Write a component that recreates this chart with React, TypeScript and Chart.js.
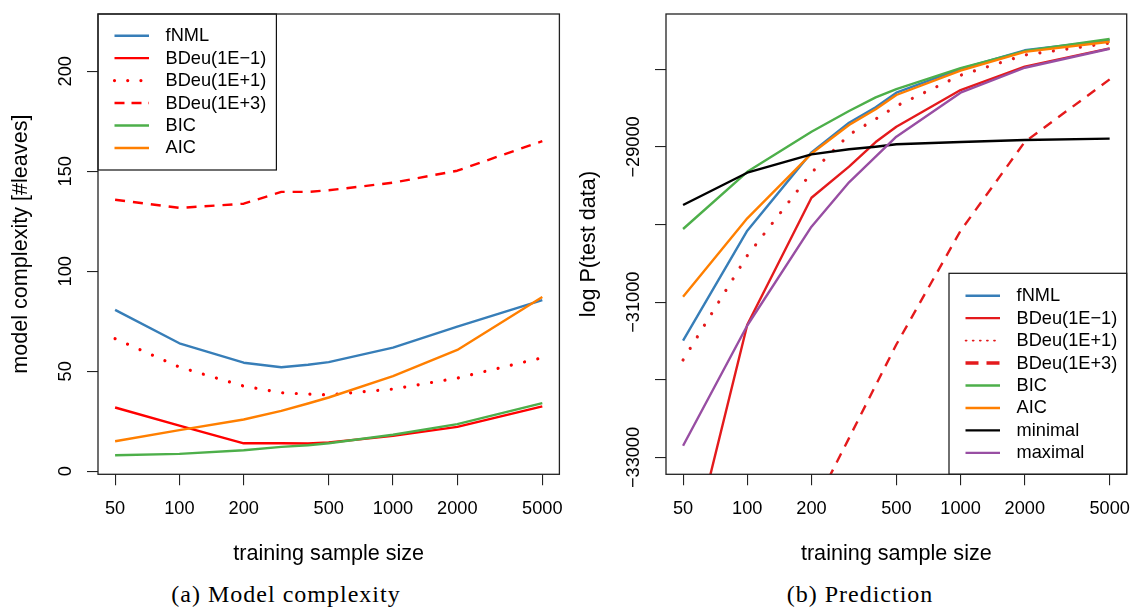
import { useEffect, useRef } from "react";
import { Chart, registerables } from "chart.js";

Chart.register(...registerables);

// ---- shared axis data ----
const sampleSizes = [50, 100, 200, 300, 400, 500, 1000, 2000, 5000];
const xTickValues = [50, 100, 200, 500, 1000, 2000, 5000];
const xTitle = "training sample size";

// ---- (a) model complexity: number of leaves ----
const complexityTicks = [0, 50, 100, 150, 200];
const complexityFNML = [80.7, 64.0, 54.3, 52.0, 53.3, 54.6, 61.8, 72.3, 85.6];
const complexityBDeuSmall = [31.9, 22.8, 14.0, 14.0, 13.9, 14.4, 17.7, 22.2, 32.5];
const complexityBDeuMid = [66.3, 52.1, 42.6, 39.3, 38.6, 38.2, 41.1, 46.6, 56.8];
const complexityBDeuLarge = [135.8, 131.7, 133.8, 139.7, 139.7, 140.5, 144.3, 150.3, 165.1];
const complexityBIC = [8.0, 8.7, 10.5, 12.2, 13.0, 14.0, 18.3, 23.6, 34.1];
const complexityAIC = [15.0, 20.6, 25.9, 30.2, 33.9, 36.9, 47.6, 60.7, 87.2];

// ---- (b) prediction: log-likelihood of test data ----
const predictionTicks = [-33000, -32000, -31000, -30000, -29000, -28000];
const predictionTickLabels = [-33000, -31000, -29000];
const predictionFNML = [-31496, -30079, -29070, -28688, -28489, -28301, -27995, -27755, -27625];
const predictionBDeuSmall = [-34650, -31290, -29654, -29254, -28937, -28739, -28267, -27966, -27730];
const predictionBDeuMid = [-31744, -30400, -29332, -28842, -28640, -28473, -28077, -27816, -27662];
const predictionBDeuLarge = [-37000, -35340, -33700, -32750, -32070, -31545, -30080, -28935, -28130];
const predictionBIC = [-30057, -29320, -28804, -28537, -28361, -28254, -27985, -27765, -27610];
const predictionAIC = [-30929, -29919, -29085, -28717, -28515, -28331, -28018, -27775, -27645];
const predictionMinimal = [-29748, -29332, -29095, -29030, -28997, -28966, -28937, -28911, -28893];
const predictionMaximal = [-32848, -31300, -30027, -29456, -29126, -28868, -28301, -27980, -27735];

const FONT = '"Liberation Sans", Arial, Helvetica, sans-serif';
const SERIF = '"Liberation Serif", "Times New Roman", serif';
const AXIS = "#222222";
const BLUE = "#377EB8";
const GREEN = "#4DAF4A";
const ORANGE = "#FF7F00";
const PURPLE = "#984EA3";
const LINE_W = 2.4;
const DOT_W = 3.2;

const SOLID: number[] = [];
const DOTTED = [0.01, 13.6];
const DASHED = [10, 8];

type Series = {
  label: string;
  data: number[];
  color: string;
  dash: number[];
  legendDash?: number[];
  legendWidth?: number;
};

type Spec = {
  series: Series[];
  yMin: number;
  yMax: number;
  yTicks: number[];
  yLabelled: number[];
  yTitle: string;
  area: { left: number; right: number; top: number; bottom: number };
  legend: { left: number; top: number; right: number; bottom: number; firstRow: number };
};

const CANVAS_W = 566;
const CANVAS_H = 575;

const fmt = (v: number) => (v < 0 ? "\u2212" + String(-v) : String(v));

function makeChart(canvas: HTMLCanvasElement, spec: Spec) {
  const { area, legend } = spec;
  const decor = {
    id: "decor",
    afterDraw(chart: any) {
      const { ctx, chartArea: a, scales } = chart;
      ctx.save();
      // legend (drawn on a white box)
      ctx.fillStyle = "#ffffff";
      const lw = legend.right - legend.left;
      const lh = legend.bottom - legend.top;
      ctx.fillRect(legend.left, legend.top, lw, lh);
      ctx.strokeStyle = "#111";
      ctx.lineWidth = 1.2;
      ctx.strokeRect(legend.left, legend.top, lw, lh);
      ctx.font = `18.2px ${FONT}`;
      ctx.textAlign = "left";
      ctx.textBaseline = "middle";
      spec.series.forEach((s, i) => {
        const yy = legend.top + legend.firstRow + i * 22.45;
        const d = s.legendDash ?? s.dash;
        const dotted = d.length > 0 && d[0] < 2;
        ctx.beginPath();
        ctx.strokeStyle = s.color;
        ctx.lineWidth = s.legendWidth ?? (s.dash === DOTTED ? DOT_W : LINE_W);
        ctx.setLineDash(d);
        ctx.lineCap = dotted ? "round" : "butt";
        ctx.moveTo(legend.left + 16.5, yy);
        ctx.lineTo(legend.left + 51, yy);
        ctx.stroke();
        ctx.setLineDash([]);
        ctx.fillStyle = "#000";
        ctx.fillText(s.label, legend.left + 67.6, yy + 0.5);
      });
      // plot frame
      ctx.strokeStyle = AXIS;
      ctx.lineWidth = 1.3;
      ctx.strokeRect(a.left, a.top, a.right - a.left, a.bottom - a.top);
      // y tick labels, parallel to the axis
      ctx.fillStyle = "#000";
      ctx.textAlign = "center";
      ctx.textBaseline = "middle";
      ctx.font = `18.2px ${FONT}`;
      const y = scales.y;
      for (const v of spec.yLabelled) {
        ctx.save();
        ctx.translate(a.left - 32.5, y.getPixelForValue(v));
        ctx.rotate(-Math.PI / 2);
        ctx.fillText(fmt(v), 0, 0);
        ctx.restore();
      }
      // axis titles
      ctx.font = `21.6px ${FONT}`;
      ctx.fillText(xTitle, (a.left + a.right) / 2, 554.5);
      ctx.save();
      ctx.translate(a.left - 77, (a.top + a.bottom) / 2);
      ctx.rotate(-Math.PI / 2);
      ctx.fillText(spec.yTitle, 0, 0);
      ctx.restore();
      ctx.restore();
    },
  };

  const datasets = spec.series.map((s, i) => ({
    label: s.label,
    data: sampleSizes.map((x, j) => ({ x, y: s.data[j] })),
    borderColor: s.color,
    backgroundColor: s.color,
    borderWidth: s.dash === DOTTED ? DOT_W : LINE_W,
    borderDash: s.dash,
    borderCapStyle: s.dash === DOTTED ? "round" : "butt",
    borderJoinStyle: "round",
    pointRadius: 0,
    tension: 0,
    fill: false,
    order: -i,
  }));

  const grid = {
    drawOnChartArea: false,
    drawTicks: true,
    tickLength: 11,
    color: AXIS,
    lineWidth: 1.1,
  };

  return new Chart(canvas, {
    type: "line",
    data: { datasets } as any,
    plugins: [decor],
    options: {
      responsive: false,
      animation: false,
      devicePixelRatio: 1,
      layout: {
        padding: { left: 0, top: area.top, right: CANVAS_W - area.right, bottom: 0 },
      },
      plugins: { legend: { display: false }, tooltip: { enabled: false }, title: { display: false } },
      scales: {
        x: {
          type: "logarithmic",
          bounds: "data",
          min: 50 / Math.pow(10, 0.08),
          max: 5000 * Math.pow(10, 0.08),
          afterBuildTicks: (s: any) => {
            s.ticks = xTickValues.map((v) => ({ value: v }));
          },
          afterFit: (s: any) => {
            s.height = CANVAS_H - area.bottom;
            s.paddingLeft = 0;
            s.paddingRight = 0;
          },
          grid,
          border: { display: false },
          ticks: {
            autoSkip: false,
            maxRotation: 0,
            minRotation: 0,
            padding: 13,
            color: "#000",
            font: { family: FONT, size: 18.2 },
            callback: (v: any) => String(v),
          },
        },
        y: {
          type: "linear",
          bounds: "data",
          min: spec.yMin,
          max: spec.yMax,
          afterBuildTicks: (s: any) => {
            s.ticks = spec.yTicks.map((v) => ({ value: v }));
          },
          afterFit: (s: any) => {
            s.width = area.left;
            s.paddingTop = 0;
            s.paddingBottom = 0;
          },
          grid,
          border: { display: false },
          ticks: { display: false },
        },
      },
    } as any,
  });
}

const complexitySpec: Spec = {
  series: [
    { label: "fNML", data: complexityFNML, color: BLUE, dash: SOLID },
    { label: "BDeu(1E\u22121)", data: complexityBDeuSmall, color: "#FF0000", dash: SOLID },
    { label: "BDeu(1E+1)", data: complexityBDeuMid, color: "#FF0000", dash: DOTTED, legendDash: [0.01, 13.2] },
    { label: "BDeu(1E+3)", data: complexityBDeuLarge, color: "#FF0000", dash: DASHED, legendDash: [10, 7] },
    { label: "BIC", data: complexityBIC, color: GREEN, dash: SOLID },
    { label: "AIC", data: complexityAIC, color: ORANGE, dash: SOLID },
  ],
  yMin: -1.5,
  yMax: 228.65,
  yTicks: complexityTicks,
  yLabelled: complexityTicks,
  yTitle: "model complexity [#leaves]",
  area: { left: 98, right: 559.4, top: 14, bottom: 474.3 },
  legend: { left: 98, top: 14, right: 276.4, bottom: 170, firstRow: 21.7 },
};

const predictionSpec: Spec = {
  series: [
    { label: "fNML", data: predictionFNML, color: BLUE, dash: SOLID },
    { label: "BDeu(1E\u22121)", data: predictionBDeuSmall, color: "#E41A1C", dash: SOLID },
    { label: "BDeu(1E+1)", data: predictionBDeuMid, color: "#E41A1C", dash: DOTTED, legendDash: [1.2, 5.9], legendWidth: 1.6 },
    { label: "BDeu(1E+3)", data: predictionBDeuLarge, color: "#E41A1C", dash: DASHED, legendDash: [13, 8], legendWidth: 3.6 },
    { label: "BIC", data: predictionBIC, color: GREEN, dash: SOLID },
    { label: "AIC", data: predictionAIC, color: ORANGE, dash: SOLID },
    { label: "minimal", data: predictionMinimal, color: "#000000", dash: SOLID },
    { label: "maximal", data: predictionMaximal, color: PURPLE, dash: SOLID },
  ],
  yMin: -33216.4,
  yMax: -27287.7,
  yTicks: predictionTicks,
  yLabelled: predictionTickLabels,
  yTitle: "log P(test data)",
  area: { left: 100, right: 560.7, top: 14, bottom: 474.3 },
  legend: { left: 383, top: 273.3, right: 560.7, bottom: 474.3, firstRow: 22.4 },
};

function Panel({ spec, left }: { spec: Spec; left: number }) {
  const ref = useRef<HTMLCanvasElement | null>(null);
  useEffect(() => {
    if (!ref.current) return;
    const chart = makeChart(ref.current, spec);
    return () => chart.destroy();
  }, [spec]);
  return (
    <canvas
      ref={ref}
      width={CANVAS_W}
      height={CANVAS_H}
      style={{ position: "absolute", left, top: 0, width: CANVAS_W, height: CANVAS_H, display: "block" }}
    />
  );
}

const captionStyle = (center: number): React.CSSProperties => ({
  position: "absolute",
  left: center - 200,
  width: 400,
  top: 581.5,
  textAlign: "center",
  fontFamily: SERIF,
  fontSize: 24,
  lineHeight: "24px",
  letterSpacing: "1px",
  color: "#000",
  whiteSpace: "nowrap",
});

export default function App() {
  return (
    <div
      style={{
        position: "absolute",
        left: 0,
        top: 0,
        width: 1132,
        height: 608,
        background: "#ffffff",
        overflow: "hidden",
      }}
    >
      <Panel spec={complexitySpec} left={0} />
      <Panel spec={predictionSpec} left={566} />
      <div style={captionStyle(286)}>(a) Model complexity</div>
      <div style={captionStyle(860)}>(b) Prediction</div>
    </div>
  );
}
